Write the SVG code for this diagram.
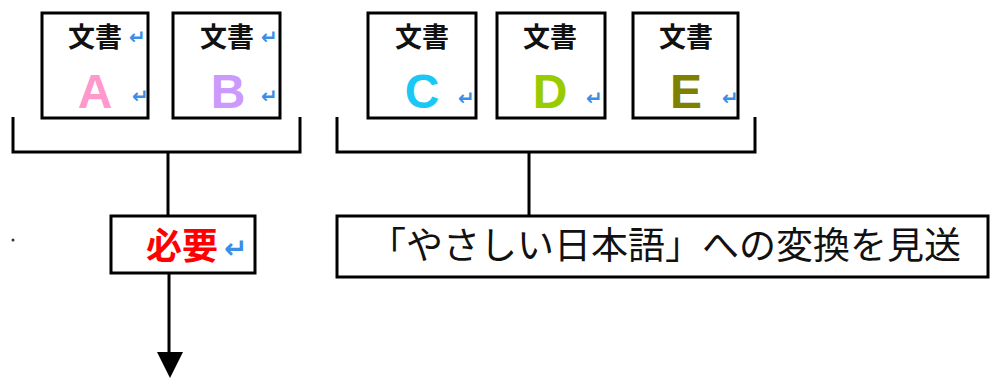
<svg xmlns="http://www.w3.org/2000/svg" width="990" height="378" viewBox="0 0 990 378">
<style>
.box{fill:#fff;stroke:#000;stroke-width:3}
.ln{fill:none;stroke:#000;stroke-width:3}
.doc{font-family:"Noto Sans CJK JP",sans-serif;font-weight:bold;font-size:27px;fill:#111;text-anchor:middle}
.let{font-family:"Liberation Sans",Arial,sans-serif;font-weight:bold;font-size:48px;text-anchor:middle}
.ret{font-family:"DejaVu Sans",sans-serif;font-weight:bold;font-size:20px;fill:#3a8ee6}
</style>
<rect width="990" height="378" fill="#fff"/>
<g id="docA">
<rect class="box" x="42" y="13" width="106" height="105"/>
<text class="doc" x="95" y="47">文書</text><text class="ret" x="129" y="44">↵</text>
<text class="let" x="95" y="108" fill="#ff99cc">A</text><text class="ret" x="132" y="103">↵</text>
</g>
<g id="docB">
<rect class="box" x="173" y="13" width="107" height="105"/>
<text class="doc" x="227" y="47">文書</text><text class="ret" x="261" y="44">↵</text>
<text class="let" x="228" y="108" fill="#cc99ff">B</text><text class="ret" x="261" y="103">↵</text>
</g>
<g id="docC">
<rect class="box" x="368" y="13" width="108" height="105"/>
<text class="doc" x="422" y="47">文書</text>
<text class="let" x="422" y="108" fill="#19c8f5">C</text><text class="ret" x="458" y="105">↵</text>
</g>
<g id="docD">
<rect class="box" x="497" y="13" width="108" height="105"/>
<text class="doc" x="550" y="47">文書</text>
<text class="let" x="550" y="108" fill="#99cc00">D</text><text class="ret" x="586" y="105">↵</text>
</g>
<g id="docE">
<rect class="box" x="633" y="13" width="105" height="105"/>
<text class="doc" x="686" y="47">文書</text>
<text class="let" x="686" y="108" fill="#808000">E</text><text class="ret" x="722" y="105">↵</text>
</g>
<g id="need">
<rect class="box" x="111" y="216" width="144" height="57"/>
<text x="146" y="259" font-family="Noto Sans CJK JP,sans-serif" font-weight="bold" font-size="36" fill="#ff0000">必要</text>
<text class="ret" x="224" y="258" style="font-size:28px">↵</text>
</g>
<g id="skip">
<rect class="box" x="337" y="216" width="651" height="61"/>
<text x="369" y="259" font-family="Noto Sans CJK JP,sans-serif" font-size="37" fill="#111">「やさしい日本語」への変換を見送</text>
</g>
<g id="connectors">
<path class="ln" d="M13,117 V152 H300 V117"/>
<path class="ln" d="M337,117 V152 H755 V117"/>
<path class="ln" d="M168,152 V216"/>
<path class="ln" d="M529,152 V216"/>
<path class="ln" d="M169,273 V354"/>
<polygon points="157,352 183,352 170,378" fill="#000"/>
</g>
<circle cx="13" cy="240" r="1.5" fill="#333"/>
</svg>
